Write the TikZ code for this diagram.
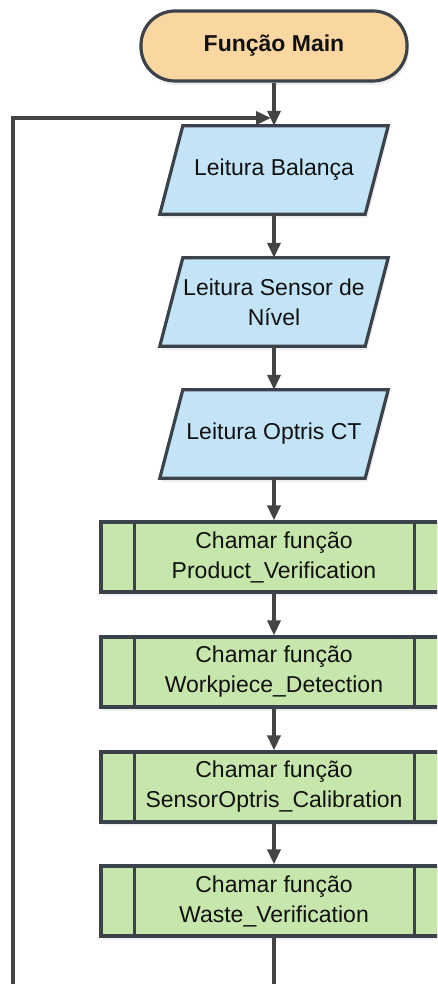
\documentclass[tikz,border=0pt]{standalone}
\usepackage{fontspec}
\setmainfont{Liberation Sans}
\usetikzlibrary{arrows.meta,shadows,backgrounds}
\definecolor{edge}{RGB}{60,66,74}
\definecolor{wire}{RGB}{68,68,68}
\definecolor{termfill}{RGB}{250,214,160}
\definecolor{iofill}{RGB}{194,228,246}
\definecolor{procfill}{RGB}{199,230,172}
\definecolor{ink}{RGB}{17,17,17}
\tikzset{
  txt/.style={font=\fontsize{23pt}{30pt}\selectfont, text=ink, align=center, inner sep=0pt},
  softshadow/.style={drop shadow={opacity=0.13, shadow xshift=2pt, shadow yshift=-4pt}},
  terminal/.style={txt, font=\fontsize{23pt}{30pt}\selectfont\bfseries, draw=edge, line width=3.2pt,
    fill=termfill, rounded corners=34pt, minimum width=266pt, minimum height=70pt, softshadow},
  iobox/.style={txt, minimum width=205pt, minimum height=88pt},
  iofig/.style={draw=edge, line width=3.2pt, fill=iofill, line join=miter, softshadow},
  proc/.style={txt, draw=edge, line width=3.2pt, fill=procfill, minimum width=346pt,
    minimum height=70pt, softshadow},
  barline/.style={draw=edge, line width=3.2pt},
  flow/.style={draw=wire, line width=3.5pt, -{Triangle[length=15pt,width=13pt]}},
  plain/.style={draw=wire, line width=3.5pt}
}
\begin{document}
\begin{tikzpicture}[x=1pt, y=-1pt]
  \clip (0,0) rectangle (437,984);
  \useasboundingbox (0,0) rectangle (437,984);

  \node[terminal] (start) at (274,46) {Função Main};

  \node[iobox] (r1) at (274,170) {Leitura Balança};
  \node[iobox] (r2) at (274,302) {Leitura Sensor de\\Nível};
  \node[iobox] (r3) at (274,434) {Leitura Optris CT};

  \begin{pgfonlayer}{background}
    \foreach \n in {r1,r2,r3}
      \path[iofig] ([xshift=11.5pt]\n.north west) -- ([xshift=11.5pt]\n.north east)
        -- ([xshift=-11.5pt]\n.south east) -- ([xshift=-11.5pt]\n.south west) -- cycle;
  \end{pgfonlayer}

  \node[proc] (p1) at (274,557) {Chamar função\\Product\_Verification};
  \node[proc] (p2) at (274,672) {Chamar função\\Workpiece\_Detection};
  \node[proc] (p3) at (274,787) {Chamar função\\SensorOptris\_Calibration};
  \node[proc] (p4) at (274,901) {Chamar função\\Waste\_Verification};

  \foreach \n in {p1,p2,p3,p4} {
    \path[barline] ([xshift=35pt]\n.north west) -- ([xshift=35pt]\n.south west);
    \path[barline] ([xshift=-34pt]\n.north east) -- ([xshift=-34pt]\n.south east);
  }

  % main flow
  \path[flow] (start) -- (r1);
  \path[flow] (r1) -- (r2);
  \path[flow] (r2) -- (r3);
  \path[flow] (r3) -- (p1);
  \path[flow] (p1) -- (p2);
  \path[flow] (p2) -- (p3);
  \path[flow] (p3) -- (p4);

  % exit of the last call and the loop back to the first reading
  \coordinate (tail) at (274,995);
  \path[plain] (p4) -- (tail);
  \coordinate (loopfoot) at (13,995);
  \coordinate (loopentry) at (271,118);
  \path[flow] (loopfoot) |- (loopentry);
\end{tikzpicture}
\end{document}
